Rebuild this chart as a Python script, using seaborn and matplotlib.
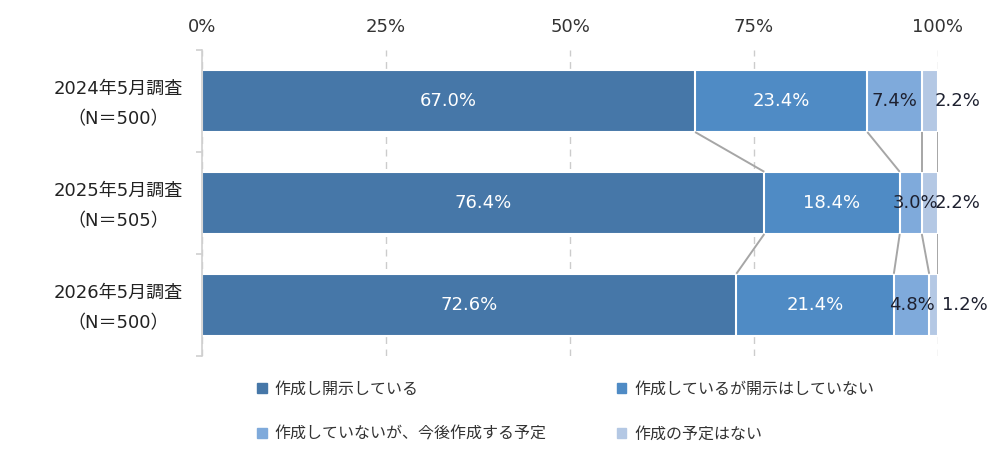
import numpy as np
import pandas as pd
import matplotlib
matplotlib.use("Agg")
import matplotlib.pyplot as plt
import matplotlib.patches as mpatches
import matplotlib.transforms as mtransforms
import seaborn as sns

surveys = ["2024年5月調査\n（N＝500）", "2025年5月調査\n（N＝505）", "2026年5月調査\n（N＝500）"]
disclosed = [67.0, 76.4, 72.6]
not_disclosed = [23.4, 18.4, 21.4]
planned = [7.4, 3.0, 4.8]
no_plan = [2.2, 2.2, 1.2]
series_names = ["作成し開示している", "作成しているが開示はしていない",
                "作成していないが、今後作成する予定", "作成の予定はない"]
colors = ["#4677A8", "#4F8BC5", "#7FAADB", "#B4C8E4"]

sns.set_theme(style="white")
plt.rcParams["font.family"] = ["DejaVu Sans", "Noto Sans CJK JP"]

BAR_H = 0.61
parts = np.array([disclosed, not_disclosed, planned, no_plan])
cum = parts.cumsum(axis=0)

fig = plt.figure(figsize=(10, 4.67), dpi=100)
ax = fig.add_axes([0.202, 0.238, 0.736, 0.655])

# stacked bars: draw cumulative totals from widest to narrowest
for i in range(3, -1, -1):
    df = pd.DataFrame({"survey": surveys, "value": cum[i]})
    sns.barplot(data=df, x="value", y="survey", color=colors[i], width=BAR_H,
                edgecolor="white", linewidth=1.5, orient="h", ax=ax,
                saturation=1)

# connector lines between bars
for r in range(len(surveys) - 1):
    for k in range(4):
        ax.plot([cum[k][r], cum[k][r + 1]], [r + BAR_H / 2, r + 1 - BAR_H / 2],
                color="#a6a6a6", lw=1.4, zorder=3, solid_capstyle="butt")

# value labels
mid_nudge = [0, 0.6, 0]
out_pos = [102.6, 102.6, 103.6]
for r in range(len(surveys)):
    for k in range(4):
        v = parts[k][r]
        if k < 2:
            x, c = cum[k][r] - v / 2, "white"
        elif k == 2:
            x, c = cum[k][r] - v / 2 + mid_nudge[r], "#1e2130"
        else:
            x, c = out_pos[r], "#1e2130"
        ax.text(x, r, f"{v:.1f}%", ha="center", va="center", color=c,
                fontsize=13, zorder=4)

ax.set_xlim(0, 100)
ax.set_ylim(2.5, -0.5)
ax.set_xticks([0, 25, 50, 75, 100])
ax.set_xticklabels(["0%", "25%", "50%", "75%", "100%"])
ax.xaxis.tick_top()
ax.tick_params(axis="x", length=0, pad=10, labelsize=13, colors="#333333")
ax.set_yticks([0, 1, 2])
ax.set_yticklabels(surveys, linespacing=1.85, ha="center")
ax.tick_params(axis="y", which="major", length=0, pad=60, labelsize=13, colors="#222222")
shift = mtransforms.ScaledTranslation(0, 0.05, fig.dpi_scale_trans)
for lab in ax.get_yticklabels():
    lab.set_transform(lab.get_transform() + shift)
ax.set_yticks([-0.5, 0.5, 1.5, 2.5], minor=True)
ax.tick_params(axis="y", which="minor", length=4, width=1.2, color="#d0d0d0", left=True)
ax.set_xlabel("")
ax.set_ylabel("")

ax.grid(axis="x", color="#cccccc", linestyle=(0, (5, 4)), lw=1)
ax.set_axisbelow(True)
for s in ["top", "right", "bottom"]:
    ax.spines[s].set_visible(False)
ax.spines["left"].set_color("#d0d0d0")
ax.spines["left"].set_linewidth(1.2)

handles = [mpatches.Patch(color=colors[i], label=series_names[i]) for i in range(4)]
order = [0, 2, 1, 3]
fig.legend(handles=[handles[i] for i in order], ncol=2, loc="upper left",
           bbox_to_anchor=(0.257, 0.182), frameon=False, fontsize=11.5,
           handlelength=0.6, handleheight=0.6, handletextpad=0.5,
           columnspacing=4.4, labelspacing=1.85, borderpad=0, borderaxespad=0,
           labelcolor="#333333")

fig.savefig("out.png", dpi=100)
